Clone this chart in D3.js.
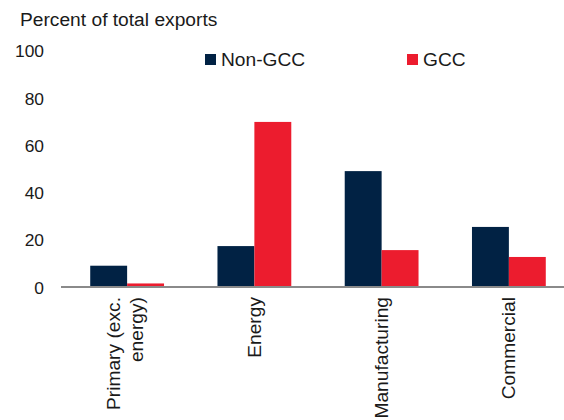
<!DOCTYPE html>
<html><head><meta charset="utf-8">
<script src="https://cdn.jsdelivr.net/npm/d3@7"></script>
<style>body{margin:0;background:#fff}svg{display:block}text{font-family:"Liberation Sans",Arial,sans-serif;fill:#1a1a1a}</style>
</head><body><svg id="c" width="564" height="420"></svg>
<script>
const categories = [["Primary (exc.", "energy)"], ["Energy"], ["Manufacturing"], ["Commercial"]];
const series = ["Non-GCC", "GCC"];
const nonGCC = [9, 17.3, 49, 25.4];
const gcc = [1.5, 69.8, 15.6, 12.7];
const yTicks = [0, 20, 40, 60, 80, 100];
const colors = ["#012244", "#EC1C2E"];

const svg = d3.select("#c");
const y = d3.scaleLinear().domain([0, 100]).range([287, 50.5]);
const x = d3.scaleBand().domain(d3.range(categories.length)).range([63.5, 572.5]).paddingInner(0.42).paddingOuter(0.21);
const xs = d3.scaleBand().domain(series).range([0, x.bandwidth()]);

svg.append("text").attr("x", 20).attr("y", 26).attr("font-size", 19.2).text("Percent of total exports");

const yAxis = svg.append("g").attr("transform", "translate(44,0)")
  .call(d3.axisLeft(y).tickValues(yTicks).tickSize(0).tickPadding(0));
yAxis.select(".domain").remove();
yAxis.selectAll("text").attr("font-size", 17.4).attr("fill", "#1a1a1a").attr("dy", "0.36em")
  .style("font-family", '"Liberation Sans",Arial,sans-serif');

const data = categories.map((c, i) => ({i, vals: [nonGCC[i], gcc[i]]}));
const g = svg.selectAll("g.cat").data(data).enter().append("g")
  .attr("transform", d => `translate(${x(d.i)},0)`);
g.selectAll("rect").data(d => d.vals.map((v, k) => ({v, k}))).enter().append("rect")
  .attr("x", d => xs(series[d.k])).attr("width", xs.bandwidth())
  .attr("y", d => y(d.v)).attr("height", d => y(0) - y(d.v))
  .attr("fill", d => colors[d.k]);

svg.append("line").attr("x1", 61).attr("x2", 564).attr("y1", y(0)).attr("y2", y(0))
  .attr("stroke", "#8a8a8a").attr("stroke-width", 2);

// category labels rotated
categories.forEach((lines, i) => {
  const cx = x(i) + x.bandwidth() / 2;
  const t = svg.append("text").attr("font-size", 19.2).attr("text-anchor", "end")
    .attr("transform", `translate(${cx},297) rotate(-90)`);
  const n = lines.length;
  lines.forEach((ln, j) => {
    t.append("tspan").attr("x", 0).attr("dy", j === 0 ? (6.5 - (n - 1) * 13.5) : 23).text(ln);
  });
});

// legend
const leg = [{name: series[0], x: 205}, {name: series[1], x: 407}];
leg.forEach((l, k) => {
  svg.append("rect").attr("x", l.x).attr("y", 54).attr("width", 11).attr("height", 11).attr("fill", colors[k]);
  svg.append("text").attr("x", l.x + 16).attr("y", 66).attr("font-size", 19.2).text(l.name);
});
</script></body></html>
